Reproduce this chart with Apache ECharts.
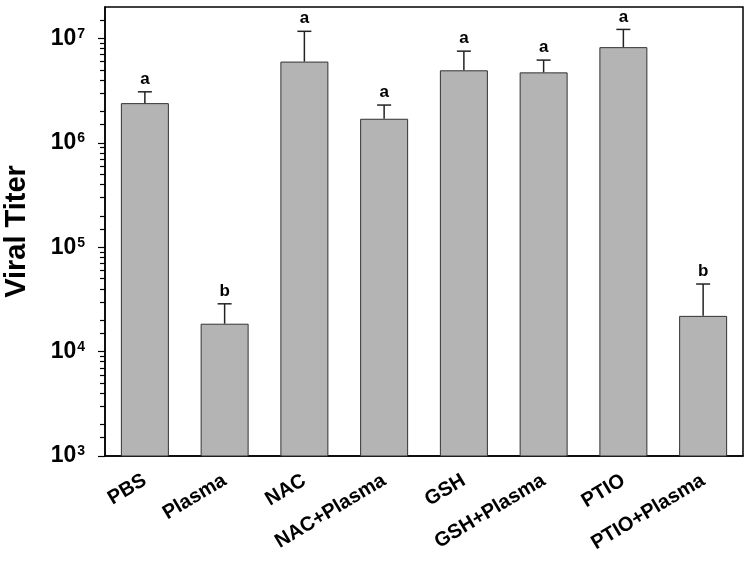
<!DOCTYPE html>
<html>
<head>
<meta charset="utf-8">
<script src="https://cdn.jsdelivr.net/npm/echarts@6/dist/echarts.min.js"></script>
<style>html,body{margin:0;padding:0;background:#fff}#c{width:750px;height:567px}</style>
</head>
<body>
<div id="c"></div>
<script>
const categories = ['PBS', 'Plasma', 'NAC', 'NAC+Plasma', 'GSH', 'GSH+Plasma', 'PTIO', 'PTIO+Plasma'];
const means = [2.4e6, 1.85e4, 6.0e6, 1.7e6, 4.95e6, 4.73e6, 8.25e6, 2.2e4];
const errorTops = [3.08e6, 2.87e4, 1.17e7, 2.3e6, 7.55e6, 6.2e6, 1.22e7, 4.44e4];
const letters = ['a', 'b', 'a', 'a', 'a', 'a', 'a', 'b'];
const majorTicks = [1e3, 1e4, 1e5, 1e6, 1e7];
const minorTicks = [
  1.5e3, 2e3, 3e3, 4e3, 5e3, 6e3, 7e3, 8e3, 9e3,
  1.5e4, 2e4, 3e4, 4e4, 5e4, 6e4, 7e4, 8e4, 9e4,
  1.5e5, 2e5, 3e5, 4e5, 5e5, 6e5, 7e5, 8e5, 9e5,
  1.5e6, 2e6, 3e6, 4e6, 5e6, 6e6, 7e6, 8e6, 9e6,
  1.5e7
];
const yMin = 1e3, yMax = 2e7;

const FONT = 'Arial, "Liberation Sans", sans-serif';
const chart = echarts.init(document.getElementById('c'), null, {renderer: 'canvas'});

const errData = categories.map((c, i) => [i, means[i], errorTops[i]]);

chart.setOption({
  animation: false,
  grid: {left: 105, right: 7, top: 7, bottom: 111, containLabel: false, outerBoundsMode: 'none', show: true, borderColor: '#000', borderWidth: 1.5, backgroundColor: 'transparent'},
  xAxis: {
    type: 'category',
    data: categories,
    boundaryGap: true,
    axisLine: {lineStyle: {color: '#000', width: 1.5}},
    axisTick: {alignWithLabel: true, length: 7, lineStyle: {color: '#000', width: 1.2}},
    axisLabel: {rotate: 31, interval: 0, margin: 23, color: '#000', fontFamily: FONT, fontWeight: 'bold', fontSize: 20},
    splitLine: {show: false}
  },
  yAxis: [{
    type: 'log',
    logBase: 10,
    min: yMin,
    max: yMax,
    name: 'Viral Titer',
    nameLocation: 'middle',
    nameGap: 74,
    nameTextStyle: {color: '#000', fontFamily: FONT, fontWeight: 'bold', fontSize: 29},
    axisLine: {show: true, lineStyle: {color: '#000', width: 1.5}},
    axisTick: {show: true, length: 7, customValues: majorTicks, lineStyle: {color: '#000', width: 1.2}},
    axisLabel: {
      customValues: majorTicks,
      margin: 20,
      formatter: v => '{b|10}{s|' + Math.round(Math.log10(v)) + '}',
      rich: {
        b: {fontFamily: FONT, fontWeight: 'bold', fontSize: 23, color: '#000', lineHeight: 23},
        s: {fontFamily: FONT, fontWeight: 'bold', fontSize: 14, color: '#000', verticalAlign: 'top', lineHeight: 14, padding: [0, 0, 0, 1]}
      }
    },
    splitLine: {show: false}
  }, {
    type: 'log',
    logBase: 10,
    min: yMin,
    max: yMax,
    position: 'left',
    axisLine: {show: false},
    axisTick: {show: true, length: 5, customValues: minorTicks, lineStyle: {color: '#000', width: 1.2}},
    axisLabel: {show: false},
    splitLine: {show: false}
  }],
  series: [{
    type: 'bar',
    data: means,
    barWidth: 48,
    itemStyle: {color: '#b4b4b4', borderColor: '#333', borderWidth: 1}
  }, {
    type: 'custom',
    data: errData,
    encode: {x: 0, y: [1, 2]},
    z: 5,
    renderItem: function (params, api) {
      const i = api.value(0);
      const p0 = api.coord([i, api.value(1)]);
      const p1 = api.coord([i, api.value(2)]);
      const st = {stroke: '#222', lineWidth: 1.5};
      return {
        type: 'group',
        children: [
          {type: 'line', shape: {x1: p0[0], y1: p0[1], x2: p1[0], y2: p1[1]}, style: st},
          {type: 'line', shape: {x1: p1[0] - 7, y1: p1[1], x2: p1[0] + 7, y2: p1[1]}, style: st},
          {type: 'text', x: p1[0], y: p1[1] - 4, style: {text: letters[params.dataIndex], fill: '#000', font: 'bold 17px ' + FONT, align: 'center', verticalAlign: 'bottom'}}
        ]
      };
    }
  }]
});
</script>
</body>
</html>
